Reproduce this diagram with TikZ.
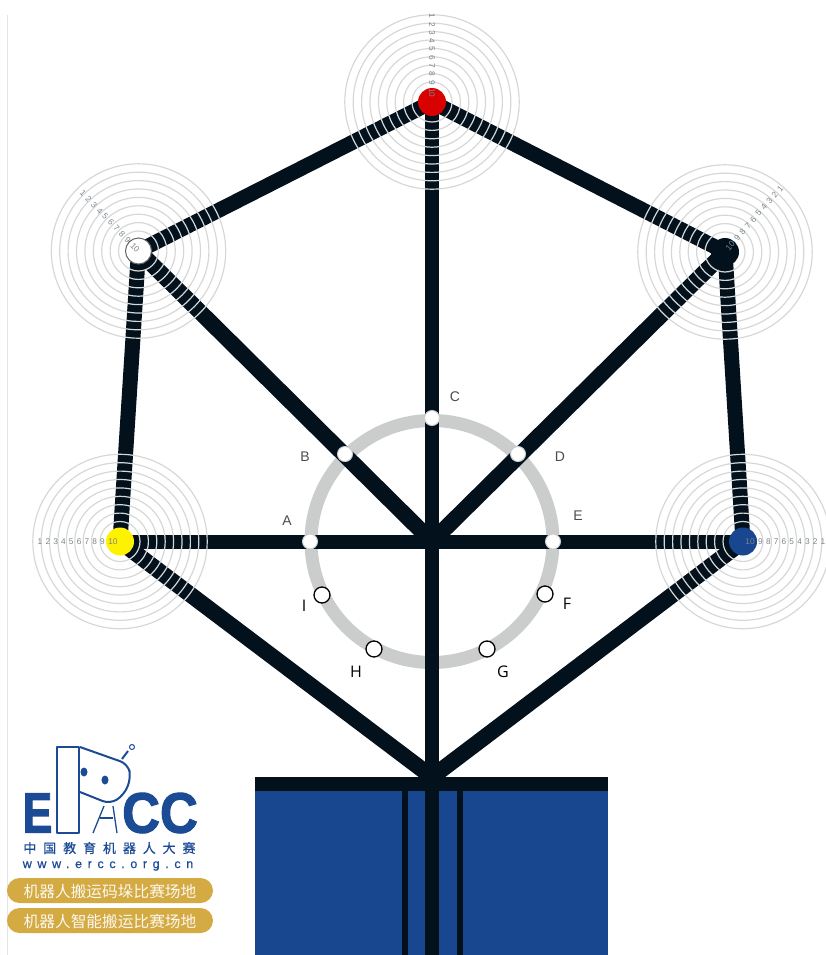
\documentclass[tikz,border=0pt]{standalone}
\usepackage{fontspec}
\usepackage{xcolor}
\usetikzlibrary{calc, positioning}
\setmainfont{Liberation Sans}
\newfontfamily\cjk{Noto Sans CJK SC}
\newfontfamily\cjkwide[LetterSpace=53, FakeBold=0.6]{Noto Sans CJK SC}
\newfontfamily\openface{Open Sans}
\newfontfamily\webface[LetterSpace=45, FakeBold=0.6]{Liberation Sans}
\newfontfamily\logoface[FakeBold=2]{Liberation Sans Bold}
\definecolor{trackblack}{HTML}{03111C}
\definecolor{ringgray}{HTML}{CBCDCC}
\definecolor{circlegray}{HTML}{D6D8D8}
\definecolor{baseblue}{HTML}{18478F}
\definecolor{logoblue}{HTML}{1B4B95}
\definecolor{pillgold}{HTML}{D4AA42}
\definecolor{numgray}{HTML}{7D848C}
\tikzset{
    track/.style={line width=14pt, trackblack},
    slant/.style={line width=16pt, trackblack},
    ringline/.style={line width=1.2pt, circlegray},
    targetdot/.style={circle, minimum size=28pt, inner sep=0pt},
    numlabel/.style={font=\fontsize{8.3}{9}\selectfont, text=numgray, inner sep=0pt},
    stopdot/.style={circle, draw=ringgray, line width=1pt, fill=white, minimum size=15pt, inner sep=0pt},
    freedot/.style={circle, draw=black, line width=1.3pt, fill=white, minimum size=16pt, inner sep=0pt},
    stoplabel/.style={font=\fontsize{14}{16}\selectfont, text=black!70},
    freelabel/.style={font=\openface\fontsize{16}{18}\selectfont, text=black},
    logoline/.style={logoblue, line width=2pt, line join=round},
    logoletter/.style={font=\logoface\fontsize{57}{57}\selectfont, text=logoblue, inner sep=0pt},
    pill/.style={fill=pillgold, rounded corners=12.5pt},
    pilltext/.style={font=\cjk\fontsize{15.7}{17}\selectfont, text=white!92!pillgold, inner sep=0pt},
}

\begin{document}
\begin{tikzpicture}[x=1pt, y=-1pt]
    \useasboundingbox (0,0) rectangle (826,955);
    \clip (0,0) rectangle (826,955);
    % Points of the field
    \coordinate (redpt) at (432,102);
    \coordinate (whitept) at (138.5,251);
    \coordinate (blackpt) at (725,252);
    \coordinate (yellowpt) at (120,541.5);
    \coordinate (bluept) at (743,541.5);
    \coordinate (hub) at (432,541.5);
    \coordinate (foot) at (432,777);
    \coordinate (tail) at (432,955);
    % Page edge
    \draw[black!10, line width=0.8pt] (7,15) -- (7,955);
    % Start area
    \fill[baseblue] (255,777) rectangle (608,955);
    \fill[trackblack] (255,777) rectangle (608,791);
    \fill[trackblack] (402,791) rectangle (407.5,955);
    \fill[trackblack] (457,791) rectangle (462.5,955);
    % Inner ring
    \draw[ringgray, line width=13pt] (hub) circle[radius=121pt];
    % Tracks
    \draw[track, line width=15pt] (whitept) -- (redpt) -- (blackpt);
    \draw[slant] (bluept) -- (foot) -- (yellowpt);
    \draw[slant] (whitept) -- (hub) -- (blackpt);
    \draw[track, line width=15pt] (yellowpt) -- (whitept);
    \draw[track, line width=15pt] (blackpt) -- (bluept);
    \draw[track] (redpt) -- (tail);
    \draw[track] (yellowpt) -- (bluept);
    % Target rings
    \foreach \pt in {redpt, whitept, blackpt, yellowpt, bluept}
        \foreach \k in {0,...,8}
            \draw[ringline] (\pt) circle[radius={(20+8.4*\k)*1pt}];
    % Target dots
    \node[targetdot, fill=red!85!black] (reddot) at (redpt) {};
    \node[targetdot, fill=white, draw=black!60, line width=1pt, minimum size=26pt] (whitedot) at (whitept) {};
    \node[targetdot, fill=trackblack] (blackdot) at (blackpt) {};
    \node[targetdot, fill=yellow] (yellowdot) at (yellowpt) {};
    \node[targetdot, fill=baseblue] (bluedot) at (bluept) {};
    % Scale numbers
    \foreach \pt/\ang/\rot/\first/\last in {redpt/-90/-90/86/9, whitept/-134/-46/80/5, blackpt/-49/49/84/8, yellowpt/180/0/80/7, bluept/0/0/80/7} {
        \foreach \n in {1,...,9}
            \node[numlabel, rotate=\rot] at ([shift={(\ang:{\first-(\first-\last-10.5)*(\n-1)/8})}]\pt) {\n};
        \node[numlabel, rotate=\rot] at ([shift={(\ang:\last)}]\pt) {10};
    }
    % Points on the ring
    \node[stopdot] (ptA) at (310,541.5) {};
    \node[stopdot] (ptB) at (345,454) {};
    \node[stopdot] (ptC) at (432,418) {};
    \node[stopdot] (ptD) at (518,454) {};
    \node[stopdot] (ptE) at (553,541.5) {};
    \node[freedot] (ptF) at (545,594) {};
    \node[freedot] (ptG) at (487,649) {};
    \node[freedot] (ptH) at (374,649) {};
    \node[freedot] (ptI) at (322,595) {};
    \node[stoplabel] at (287,521) {A};
    \node[stoplabel] at (305,457) {B};
    \node[stoplabel] at (455,397) {C};
    \node[stoplabel] at (560,457) {D};
    \node[stoplabel] at (578,516) {E};
    \node[freelabel] at (567,604) {F};
    \node[freelabel] at (503,672) {G};
    \node[freelabel] at (356,672) {H};
    \node[freelabel] at (304,606) {I};
    % Logo
    \draw[logoline, fill=white] (57,747) rectangle (79,833);
    \draw[logoline, fill=white, rounded corners=8pt] (80,747) -- (128,764) -- (131,778) -- (124,795) -- (110,804) -- (80,792);
    \draw[logoline] (122,759) -- (128,751);
    \draw[logoblue, line width=1pt] (132,747) circle[radius=2.5pt];
    \fill[logoblue] (84,772) ellipse[x radius=3.5pt, y radius=4.5pt];
    \fill[logoblue] (105,780) ellipse[x radius=3.5pt, y radius=4.5pt];
    \draw[logoline, line width=1.3pt] (104,806) -- (93,833);
    \draw[logoline, line width=1.3pt] (113,806) -- (117,833);
    \draw[logoline, line width=1.3pt] (100,818) -- (113,818);
    \node[logoletter, xscale=0.78] (logoE) at (37.5,813) {E};
    \node[logoletter, xscale=0.92] (logoC) at (160,813) {CC};
    \node[font=\cjkwide\fontsize{13}{15}\selectfont, text=logoblue, inner sep=0pt] (logoname) at (109.5,848) {中国教育机器人大赛};
    \node[font=\webface\fontsize{12.5}{14}\selectfont, text=logoblue, inner sep=0pt] (logoweb) at (108,866) {www.ercc.org.cn};
    % Titles
    \fill[pill] (7,878) rectangle (213,903);
    \fill[pill] (7,908) rectangle (213,933);
    \node[pilltext] (titleA) at (110,891) {机器人搬运码垛比赛场地};
    \node[pilltext] (titleB) at (110,921) {机器人智能搬运比赛场地};
\end{tikzpicture}
\end{document}
